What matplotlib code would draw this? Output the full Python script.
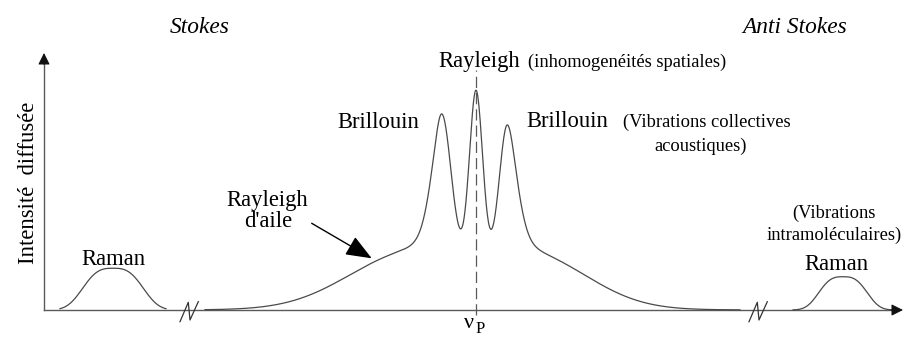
import numpy as np
import matplotlib.pyplot as plt
from matplotlib.patches import FancyArrowPatch

plt.rcParams.update({"font.family": ["Liberation Serif", "DejaVu Serif"], "font.size": 16.3})

# frequency shift (arbitrary units, 0 = laser line nu_P) and intensity (% of the Rayleigh line)
x_min, x_max = -43.2, 42.7
y_max = 115.1

# central band: Rayleigh line, two Brillouin doublet lines, wing humps underneath
rayleigh_center = 0.0
rayleigh_height = 74.3
rayleigh_width = 0.65
brillouin_centers = [-3.43, 3.13]
brillouin_heights = [63.0, 58.0]
brillouin_inner = [0.92, 0.78]
brillouin_outer = [1.07, 1.04]
wing_centers = [-7.0, 6.0]
wing_heights = [23.6, 22.0]
wing_widths = [6.0, 5.5]
band_span = (-27.1, 26.4)

# Raman bands, Stokes side and anti-Stokes side
raman_centers = [-36.3, 36.7]
raman_heights = [18.7, 14.9]
raman_widths = [3.5, 2.8]
raman_halfspan = [5.3, 5.0]

# axis breaks
break_positions = [-28.7, 28.2]

curve_color = "#4a4a4a"
axis_color = "#5a5a5a"


def gauss(x, c, h, w):
    return h * np.exp(-0.5 * ((x - c) / w) ** 2)


def brillouin_line(x, c, h, w_in, w_out, outer_left):
    """Gaussian on the inner side, half Gaussian / half Lorentzian on the outer side."""
    d = x - c
    outer = d < 0 if outer_left else d > 0
    inner_part = np.exp(-0.5 * (d / w_in) ** 2)
    outer_part = 0.5 * np.exp(-0.5 * (d / w_out) ** 2) + 0.5 / (1 + (d / w_out) ** 2)
    return h * np.where(outer, outer_part, inner_part)


def central_band(x):
    y = gauss(x, rayleigh_center, rayleigh_height, rayleigh_width)
    for c, h, w in zip(wing_centers, wing_heights, wing_widths):
        y = y + gauss(x, c, h, w)
    for i, (c, h) in enumerate(zip(brillouin_centers, brillouin_heights)):
        y = y + brillouin_line(x, c, h, brillouin_inner[i], brillouin_outer[i], outer_left=(i == 0))
    return y


fig = plt.figure(figsize=(9.05, 3.37), dpi=100)
ax = fig.add_axes([0, 0, 1, 1])
ax.set_xlim(-47.6, 42.9)
ax.set_ylim(-12.09, 138.83)
ax.axis("off")

# axes with arrow heads
ax.plot([x_min, x_max - 0.8], [0, 0], color=axis_color, lw=1.0, zorder=1)
ax.plot([x_min, x_min], [0, y_max - 3.5], color=axis_color, lw=1.0, zorder=1)
for tip, tail in [((x_max, 0), (x_max - 1.2, 0)), ((x_min, y_max), (x_min, y_max - 5))]:
    ax.add_patch(FancyArrowPatch(tail, tip, arrowstyle="-|>,head_length=0.5,head_width=0.25",
                                 mutation_scale=14, color="#111111", lw=0.8,
                                 shrinkA=0, shrinkB=0, zorder=3))

# spectrum
xs = np.linspace(band_span[0], band_span[1], 1500)
ax.plot(xs, central_band(xs), color=curve_color, lw=0.9, zorder=2)
for c, h, w, s in zip(raman_centers, raman_heights, raman_widths, raman_halfspan):
    xr = np.linspace(c - s, c + s, 300)
    ax.plot(xr, h * np.exp(-np.abs((xr - c) / w) ** 3), color=curve_color, lw=0.9, zorder=2)

# axis breaks drawn as a slanted N
n_dx = np.array([-0.9, -0.07, 0.1, 0.93])
n_dy = np.array([-5.24, 3.45, -4.48, 3.72])
for bx in break_positions:
    ax.plot(bx + n_dx, n_dy, color="#333333", lw=0.9, zorder=3)

# laser line position
ax.plot([0, 0], [-2.2, 107.5], color=axis_color, lw=0.9, linestyle=(0, (9, 4)), zorder=1)
ax.text(-0.7, -8.06, "ν", ha="center", va="baseline", fontsize=16)
ax.text(0.45, -10.3, "P", ha="center", va="baseline", fontsize=12)

# labels
small = 13.3
ax.text(-27.6, 123.9, "Stokes", style="italic", ha="center", va="baseline", fontsize=16.8)
ax.text(31.9, 124.0, "Anti Stokes", style="italic", ha="center", va="baseline", fontsize=16.8)
ax.text(-44.8, 56.9, "Intensité  diffusée", rotation=90, ha="center", va="center")

ax.text(-36.3, 20.2, "Raman", ha="center", va="baseline")
ax.text(-20.9, 46.6, "Rayleigh", ha="center", va="baseline")
ax.text(-20.75, 37.2, "d'aile", ha="center", va="baseline")
ax.add_patch(FancyArrowPatch((-16.43, 38.83), (-10.43, 23.15),
                             arrowstyle="-|>,head_length=1.0,head_width=0.4",
                             mutation_scale=16, color="black", lw=1.0,
                             shrinkA=0, shrinkB=0, zorder=3))

ax.text(-9.77, 81.4, "Brillouin", ha="center", va="baseline")
ax.text(0.3, 109.0, "Rayleigh", ha="center", va="baseline")
ax.text(5.2, 109.0, "(inhomogenéités spatiales)", ha="left", va="baseline", fontsize=small)
ax.text(9.15, 82.0, "Brillouin", ha="center", va="baseline")
ax.text(14.73, 82.0, "(Vibrations collectives", ha="left", va="baseline", fontsize=small)
ax.text(22.45, 71.2, "acoustiques)", ha="center", va="baseline", fontsize=small)

ax.text(35.8, 41.2, "(Vibrations", ha="center", va="baseline", fontsize=small)
ax.text(35.8, 31.3, "intramoléculaires)", ha="center", va="baseline", fontsize=small)
ax.text(36.05, 17.9, "Raman", ha="center", va="baseline")

fig.savefig("out.png", dpi=100)
